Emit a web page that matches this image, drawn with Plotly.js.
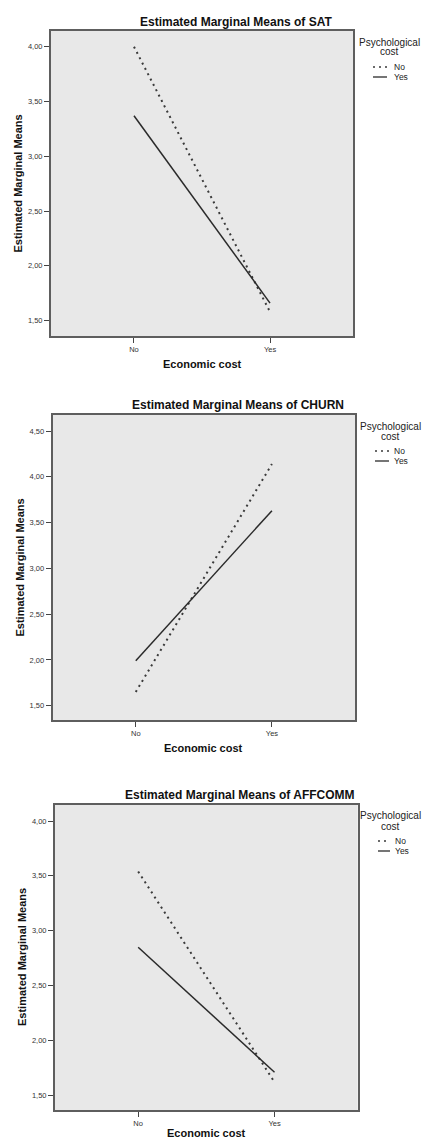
<!DOCTYPE html>
<html>
<head>
<meta charset="utf-8">
<script src="https://cdn.plot.ly/plotly-3.0.1.min.js"></script>
<style>html,body{margin:0;padding:0;background:#fff;}#chart{width:422px;height:1141px;}</style>
</head>
<body>
<div id="chart"></div>
<script>
// ---- data ----
const categories = ['No', 'Yes'];
const satNo = [4.00, 1.58];
const satYes = [3.37, 1.66];
const churnNo = [1.65, 4.14];
const churnYes = [1.99, 3.63];
const affNo = [3.54, 1.62];
const affYes = [2.85, 1.71];
const seriesNames = ['No', 'Yes'];
const panelTitles = ['Estimated Marginal Means of SAT', 'Estimated Marginal Means of CHURN', 'Estimated Marginal Means of AFFCOMM'];
const xTitle = 'Economic cost';
const yTitle = 'Estimated Marginal Means';
const legendTitleLines = ['Psychological', 'cost'];

// ---- layout helpers ----
const W = 422, H = 1141;
const px = v => v / W;
const py = v => 1 - v / H;
const FONT = 'Liberation Sans, Arial, sans-serif';

const styleNo = {color: '#3a3a3a', width: 2, dash: '2px,4px'};
const styleYes = {color: '#2a2a2a', width: 1.5, dash: 'solid'};

const panels = [
  {no: satNo, yes: satYes, x0: 51, x1: 353, y0: 31, y1: 336, yr: [1.36, 4.143], titleX: 236, titleY: 22, yTitleX: 18, xTitleY: 364,
   legCx: 389.5, legTy: 42, sx0: 373, sx1: 387, tx: 392, itemY: 67},
  {no: churnNo, yes: churnYes, x0: 52.7, x1: 355, y0: 415, y1: 720, yr: [1.344, 4.675], titleX: 237.5, titleY: 405, yTitleX: 19, xTitleY: 748,
   legCx: 390.5, legTy: 426, sx0: 375, sx1: 389, tx: 392, itemY: 451},
  {no: affNo, yes: affYes, x0: 55, x1: 357.7, y0: 805, y1: 1110, yr: [1.366, 4.146], titleX: 239.7, titleY: 795, yTitleX: 21.5, xTitleY: 1133,
   legCx: 390, legTy: 816, sx0: 378, sx1: 390, tx: 393, itemY: 841}
];

const traces = [];
const layout = {
  width: W, height: H, autosize: false,
  margin: {l: 0, r: 0, t: 0, b: 0, pad: 0},
  paper_bgcolor: '#ffffff',
  plot_bgcolor: '#e8e8e8',
  separators: ',.',
  showlegend: false,
  font: {family: FONT, color: '#222'},
  annotations: [],
  shapes: []
};

function ann(x, y, text, size, extra) {
  layout.annotations.push(Object.assign({
    xref: 'paper', yref: 'paper', x: px(x), y: py(y),
    xanchor: 'center', yanchor: 'middle', showarrow: false,
    text: text, font: {family: FONT, size: size, color: '#222'}
  }, extra || {}));
}

panels.forEach((p, i) => {
  const n = i + 1;
  const xa = n === 1 ? 'x' : 'x' + n;
  const ya = n === 1 ? 'y' : 'y' + n;
  traces.push({
    type: 'scatter', mode: 'lines', x: categories, y: p.no, name: seriesNames[0],
    xaxis: xa, yaxis: ya, line: styleNo
  });
  traces.push({
    type: 'scatter', mode: 'lines', x: categories, y: p.yes, name: seriesNames[1],
    xaxis: xa, yaxis: ya, line: styleYes
  });
  const axCommon = {
    showline: true, mirror: true, linecolor: '#5e5e5e', linewidth: 2,
    showgrid: false, zeroline: false,
    ticks: 'outside', ticklen: 5, tickwidth: 1, tickcolor: '#444',
    tickfont: {family: FONT, size: 7.5, color: '#333'}
  };
  layout['xaxis' + (n === 1 ? '' : n)] = Object.assign({}, axCommon, {
    type: 'category', range: [-0.61, 1.61],
    domain: [px(p.x0), px(p.x1)], anchor: ya
  });
  layout['yaxis' + (n === 1 ? '' : n)] = Object.assign({}, axCommon, {
    range: p.yr, tick0: 1.5, dtick: 0.5, tickformat: '.2f',
    domain: [py(p.y1), py(p.y0)], anchor: xa
  });
  // titles
  ann(p.titleX, p.titleY, '<b>' + panelTitles[i] + '</b>', 12, {font: {family: FONT, size: 12, color: '#111'}});
  ann((p.x0 + p.x1) / 2, p.xTitleY, '<b>' + xTitle + '</b>', 11, {font: {family: FONT, size: 11, color: '#111'}});
  ann(p.yTitleX, (p.y0 + p.y1) / 2, '<b>' + yTitle + '</b>', 11, {textangle: -90, font: {family: FONT, size: 11, color: '#111'}});
  // legend (title + samples)
  ann(p.legCx, p.legTy, legendTitleLines[0], 10);
  ann(p.legCx, p.legTy + 10, legendTitleLines[1], 10);
  [styleNo, styleYes].forEach((st, k) => {
    const yy = p.itemY + 10 * k;
    layout.shapes.push({
      type: 'line', xref: 'paper', yref: 'paper',
      x0: px(p.sx0), x1: px(p.sx1), y0: py(yy), y1: py(yy),
      line: {color: st.color, width: st.width === 2 ? 1.5 : 1.3, dash: st.dash}
    });
    ann(p.tx, yy, seriesNames[k], 8.5, {xanchor: 'left'});
  });
});

Plotly.newPlot('chart', traces, layout, {staticPlot: true, displayModeBar: false});
</script>
</body>
</html>
